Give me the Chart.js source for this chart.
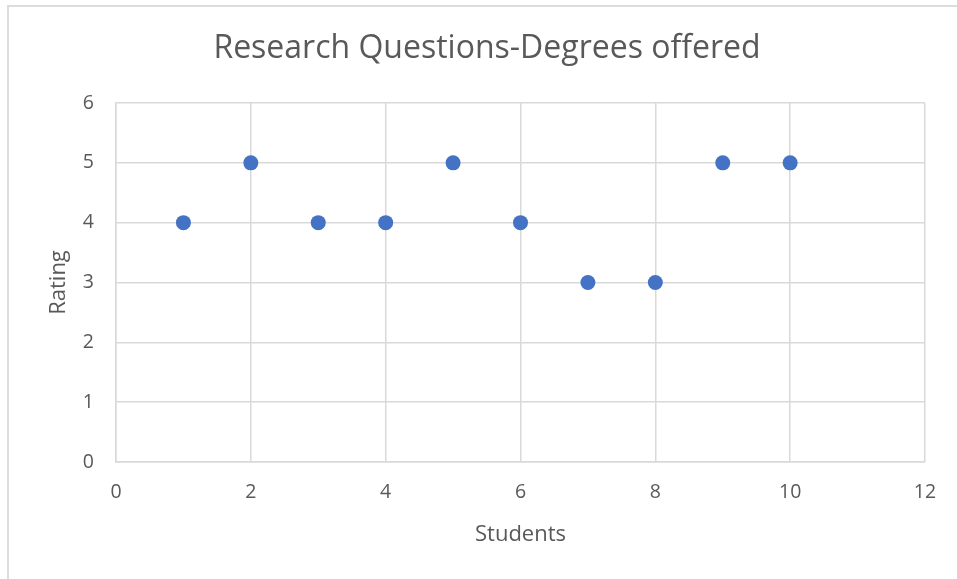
<!DOCTYPE html>
<html>
<head>
<meta charset="utf-8">
<title>Research Questions-Degrees offered</title>
<script src="https://cdn.jsdelivr.net/npm/chart.js@4/dist/chart.umd.min.js"></script>
<style>
  html, body { margin: 0; padding: 0; background: #ffffff; }
  #wrap { position: relative; width: 957px; height: 579px; overflow: hidden; }
  #frame {
    position: absolute; left: 7px; top: 5px; width: 1000px; height: 700px;
    border-left: 2px solid #dcdcdc; border-top: 2px solid #dcdcdc;
    box-sizing: border-box; pointer-events: none;
  }
  canvas { position: absolute; left: 0; top: 0; }
</style>
</head>
<body>
<div id="wrap">
  <div id="frame"></div>
  <canvas id="chart" width="957" height="579"></canvas>
</div>
<script>
// Student ratings for the "Degrees offered" research question
const students = [1, 2, 3, 4, 5, 6, 7, 8, 9, 10];
const ratings  = [4, 5, 4, 4, 5, 4, 3, 3, 5, 5];

// Axis ranges and tick steps
const xRange = { min: 0, max: 12, step: 2 };
const yRange = { min: 0, max: 6, step: 1 };

const chartTitle = 'Research Questions-Degrees offered';
const xTitle = 'Students';
const yTitle = 'Rating';

const FONT = "'Open Sans', 'Liberation Sans', sans-serif";
const TEXT = '#595959';
const GRID = '#d9d9d9';
const MARK = '#4472C4';

const points = students.map((s, i) => ({ x: s, y: ratings[i] }));

new Chart(document.getElementById('chart'), {
  type: 'scatter',
  data: {
    datasets: [{
      label: yTitle,
      data: points,
      backgroundColor: MARK,
      borderColor: MARK,
      borderWidth: 0,
      pointRadius: 7.5,
      pointHoverRadius: 7.5
    }]
  },
  options: {
    responsive: false,
    animation: false,
    // left padding keeps the title centred on the whole frame
    layout: { padding: { left: 49, right: 32, top: 0, bottom: 0 } },
    plugins: {
      legend: { display: false },
      tooltip: { enabled: false },
      title: {
        display: true,
        text: chartTitle,
        color: TEXT,
        font: { family: FONT, size: 32, weight: 'normal', lineHeight: 1.2 },
        padding: { top: 30, bottom: 34.6 }
      }
    },
    scales: {
      x: {
        type: 'linear',
        min: xRange.min,
        max: xRange.max,
        afterFit: (scale) => { scale.height = 117; },
        ticks: {
          stepSize: xRange.step,
          color: TEXT,
          padding: 19,
          font: { family: FONT, size: 19.5 }
        },
        grid: { color: GRID, lineWidth: 1.5, drawTicks: false },
        border: { display: true, color: GRID, width: 1.5 },
        title: {
          display: true,
          text: xTitle,
          color: TEXT,
          font: { family: FONT, size: 22, lineHeight: 1.2 },
          padding: { top: 0, bottom: 31 }
        }
      },
      y: {
        type: 'linear',
        min: yRange.min,
        max: yRange.max,
        afterFit: (scale) => { scale.width = 67; },
        ticks: {
          stepSize: yRange.step,
          color: TEXT,
          padding: 22,
          font: { family: FONT, size: 19.5 }
        },
        grid: { color: GRID, lineWidth: 1.5, drawTicks: false },
        border: { display: true, color: GRID, width: 1.5 },
        title: {
          display: true,
          text: yTitle,
          color: TEXT,
          font: { family: FONT, size: 22, lineHeight: 0.9 },
          padding: { top: 0, bottom: 0 }
        }
      }
    }
  }
});
</script>
</body>
</html>
